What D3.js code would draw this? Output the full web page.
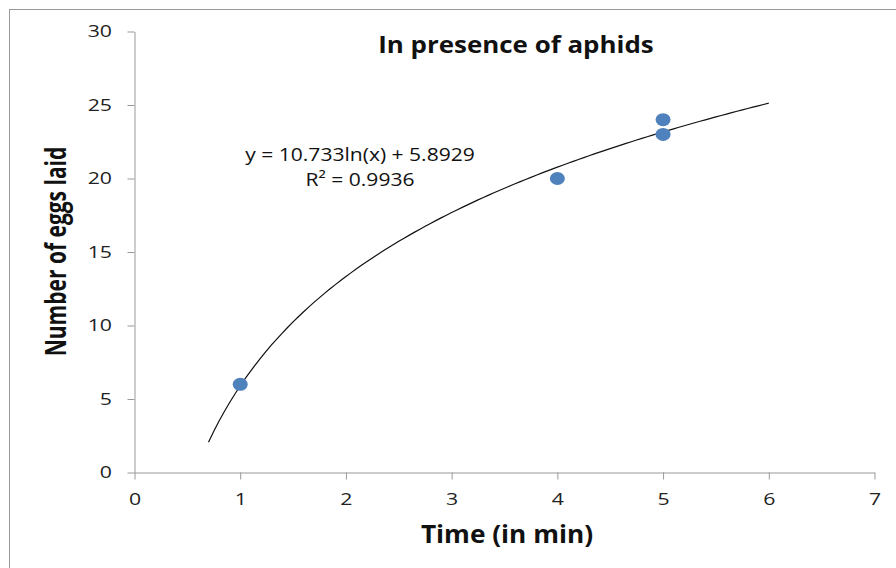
<!DOCTYPE html>
<html>
<head>
<meta charset="utf-8">
<script src="https://cdn.jsdelivr.net/npm/d3@7"></script>
<style>
body { margin: 0; background: #fff; }
text { font-family: "Open Sans", sans-serif; }
</style>
</head>
<body>
<svg id="chart" width="896" height="568"></svg>
<script>
// observed points
const timeMin = [1, 4, 5, 5];
const eggs = [6, 20, 23, 24];
// fitted log trend
const coefA = 10.733, coefB = 5.8929, rSq = 0.9936;
const fitStart = 0.7, fitEnd = 6;
const xTicks = [0, 1, 2, 3, 4, 5, 6, 7];
const yTicks = [0, 5, 10, 15, 20, 25, 30];

// the picture is a bit wide, so text gets stretched sideways
const sx = 1.25;

const svg = d3.select("#chart");

// outer chart frame
svg.append("rect")
	.attr("x", 9.5).attr("y", 9.5)
	.attr("width", 900).attr("height", 600)
	.attr("fill", "none").attr("stroke", "#999");

const x = d3.scaleLinear().domain([0, 7]).range([134.5, 874.5]);
const y = d3.scaleLinear().domain([0, 30]).range([472.5, 31.5]);

const xAxis = svg.append("g")
	.attr("transform", "translate(0,472.5)")
	.call(d3.axisBottom(x).tickValues(xTicks).tickFormat(d3.format("d"))
		.tickSize(7).tickPadding(13.5).tickSizeOuter(0));
const yAxis = svg.append("g")
	.attr("transform", "translate(134.5,0)")
	.call(d3.axisLeft(y).tickValues(yTicks).tickSize(7).tickPadding(15.5).tickSizeOuter(0));

[xAxis, yAxis].forEach(g => {
	g.select(".domain").attr("stroke", "#999");
	g.selectAll(".tick line").attr("stroke", "#999");
	g.selectAll(".tick text")
		.attr("fill", "#222")
		.style("font-size", "17px")
		.attr("x", function(){ return (+this.getAttribute("x") || 0)/sx; })
		.attr("transform", `scale(${sx},1)`);
});

// trendline
let fitX = d3.range(fitStart, fitEnd + 0.001, 0.05);
let line = d3.line().x(d => x(d)).y(d => y(coefA*Math.log(d) + coefB));
svg.append("path")
	.datum(fitX)
	.attr("d", line)
	.attr("fill", "none")
	.attr("stroke", "#111")
	.attr("stroke-width", 1.2);

svg.selectAll("ellipse.pt")
	.data(timeMin)
	.join("ellipse")
	.attr("class", "pt")
	.attr("cx", d => x(d))
	.attr("cy", (d, i) => y(eggs[i]))
	.attr("rx", 7.5)
	.attr("ry", 6.5)
	.attr("fill", "#4F81BD");

function label(px, py, str, size, bold, scale) {
	svg.append("g")
		.attr("transform", `translate(${px},${py}) scale(${scale},1)`)
		.append("text")
		.attr("text-anchor", "middle")
		.attr("fill", "#111")
		.style("font-size", size + "px")
		.style("font-weight", bold ? "bold" : "normal")
		.text(str);
}

// equation label
label(360, 161, "y = " + coefA + "ln(x) + " + coefB, 18, false, 1.17);
label(360, 186, "R² = " + rSq, 18, false, 1.17);

label(516, 53, "In presence of aphids", 24, true, 1.08);
label(507, 543, "Time (in min)", 25, true, 1.05);

svg.append("text")
	.attr("transform", "translate(66,251.5) scale(1.35,1) rotate(-90)")
	.attr("text-anchor", "middle")
	.attr("fill", "#111")
	.style("font-size", "21px").style("font-weight", "bold")
	.text("Number of eggs laid");
</script>
</body>
</html>
